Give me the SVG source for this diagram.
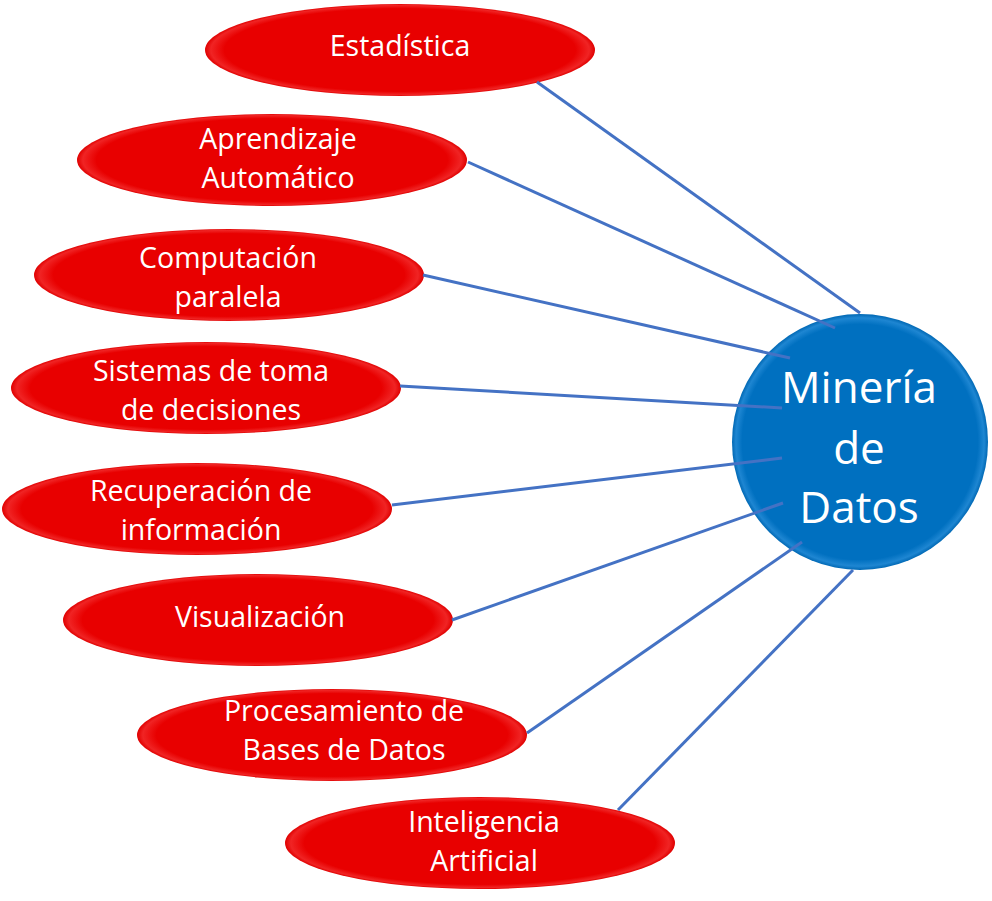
<svg xmlns="http://www.w3.org/2000/svg" width="992" height="901" viewBox="0 0 992 901">
<defs>
<radialGradient id="red" cx="50%" cy="50%" r="50%">
<stop offset="0.9" stop-color="#E80000"/>
<stop offset="0.97" stop-color="#F02424"/>
<stop offset="1" stop-color="#E00000"/>
</radialGradient>
<radialGradient id="blue" cx="50%" cy="50%" r="50%">
<stop offset="0.92" stop-color="#0070C0"/>
<stop offset="0.97" stop-color="#1E86D2"/>
<stop offset="1" stop-color="#0068B4"/>
</radialGradient>
<style>
.el{fill:url(#red);}
.t{fill:#fff;font-family:"Open Sans","Noto Sans",sans-serif;font-size:28.5px;text-anchor:middle;}
.big{fill:#fff;font-family:"Open Sans","Noto Sans",sans-serif;font-size:44px;text-anchor:middle;}
.ln{stroke:#4472C4;stroke-width:3;fill:none;}
</style>
</defs>
<g id="n1"><ellipse class="el" cx="400" cy="50" rx="195" ry="46"/><text class="t" x="400" y="56">Estadística</text></g>
<g id="n2"><ellipse class="el" cx="272" cy="160" rx="195" ry="46"/><text class="t" x="278" y="149">Aprendizaje</text><text class="t" x="278" y="188">Automático</text></g>
<g id="n3"><ellipse class="el" cx="229" cy="275" rx="195" ry="46"/><text class="t" x="228" y="268">Computación</text><text class="t" x="228" y="307">paralela</text></g>
<g id="n4"><ellipse class="el" cx="206" cy="388" rx="195" ry="46"/><text class="t" x="211" y="381">Sistemas de toma</text><text class="t" x="211" y="420">de decisiones</text></g>
<g id="n5"><ellipse class="el" cx="197" cy="509" rx="195" ry="46"/><text class="t" x="201" y="501">Recuperación de</text><text class="t" x="201" y="540">información</text></g>
<g id="n6"><ellipse class="el" cx="258" cy="620" rx="195" ry="46"/><text class="t" x="260" y="627">Visualización</text></g>
<g id="n7"><ellipse class="el" cx="332" cy="735" rx="195" ry="46"/><text class="t" x="344" y="721">Procesamiento de</text><text class="t" x="344" y="760">Bases de Datos</text></g>
<g id="n8"><ellipse class="el" cx="480" cy="843" rx="195" ry="46"/><text class="t" x="484" y="832">Inteligencia</text><text class="t" x="484" y="871">Artificial</text></g>
<g id="center"><circle cx="860" cy="442" r="128" fill="url(#blue)"/><text class="big" x="859" y="403">Minería</text><text class="big" x="859" y="464">de</text><text class="big" x="859" y="523">Datos</text></g>
<g id="connectors">
<line class="ln" x1="537" y1="82" x2="860" y2="313"/>
<line class="ln" x1="468" y1="162" x2="835" y2="328"/>
<line class="ln" x1="423" y1="275" x2="790" y2="358"/>
<line class="ln" x1="400" y1="386" x2="782" y2="408"/>
<line class="ln" x1="392" y1="505" x2="782" y2="458"/>
<line class="ln" x1="452" y1="620" x2="783" y2="503"/>
<line class="ln" x1="527" y1="733" x2="802" y2="542"/>
<line class="ln" x1="618" y1="810" x2="853" y2="570"/>
</g>
</svg>
